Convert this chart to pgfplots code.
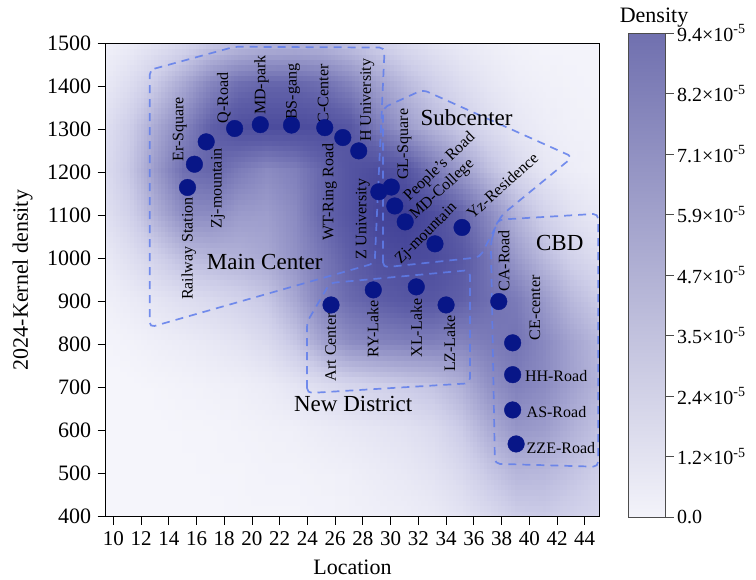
\documentclass[border=0pt]{standalone}
\usepackage{fontspec}
\setmainfont{Liberation Serif}
\usepackage{pgfplots}
\pgfplotsset{compat=1.18}
\usepgfplotslibrary{patchplots}

\definecolor{dot}{RGB}{8,22,135}
\definecolor{zone}{RGB}{95,125,235}
\newcommand\fa{\fontsize{21}{23}\selectfont}
\newcommand\fy{\fontsize{22}{24}\selectfont}
\newcommand\fb{\fontsize{22}{24}\selectfont}
\newcommand\fc{\fontsize{20}{22}\selectfont}
\newcommand\fl{\fontsize{16}{18}\selectfont}
\newcommand\fr{\fontsize{23}{25}\selectfont}

\pgfplotsset{
  colormap={kde}{rgb255=(247,247,252) rgb255=(205,205,232) rgb255=(150,150,200) rgb255=(95,95,168) rgb255=(55,55,145)},
  colormap={cb}{rgb255=(243,243,250) rgb255=(112,112,175)},
}
\tikzset{
  zonestyle/.style={draw=zone, dash pattern=on 8pt off 6pt, line width=1.7pt, draw opacity=0.85, rounded corners=5pt, mark=none},
  lab/.style={font=\fl, inner sep=0pt, text=black},
  reg/.style={font=\fr, inner sep=0pt, text=black},
}

\begin{document}
\begin{tikzpicture}
\begin{axis}[
  at={(0pt,0pt)}, anchor=south west,
  scale only axis, width=493.6pt, height=473.4pt,
  xmin=9.45, xmax=45.05, ymin=400, ymax=1500,
  xtick={10,12,...,44}, ytick={400,500,...,1500},
  xtick pos=bottom, ytick pos=left,
  tick align=outside, major tick length=8pt,
  tick style={black, line width=0.9pt},
  axis line style={black, line width=1.3pt},
  xticklabel style={font=\fa, yshift=-3pt},
  yticklabel style={font=\fy, xshift=-3pt},
  /pgf/number format/assume math mode=true,
  /pgf/number format/set thousands separator={},
  xlabel={Location}, ylabel={2024-Kernel density},
  every axis x label/.style={at={(axis description cs:0.5,0)}, yshift=-50.5pt, anchor=center, font=\fb},
  every axis y label/.style={at={(axis description cs:-0.1682,0.5)}, rotate=90, anchor=center, font=\fb},
  colormap name=kde, point meta min=0, point meta max=1,
  axis on top,
]
\addplot[surf, shader=interp, patch type=bilinear, mesh/cols=20, point meta=explicit] coordinates {
(9,400)[.01] (11,400)[.01] (13,400)[.01] (15,400)[.01] (17,400)[.01] (19,400)[.02] (21,400)[.02] (23,400)[.02] (25,400)[.03] (27,400)[.04] (29,400)[.05] (31,400)[.06] (33,400)[.08] (35,400)[.12] (37,400)[.18] (39,400)[.25] (41,400)[.26] (43,400)[.23] (45,400)[.19] (47,400)[.16]
(9,500)[.01] (11,500)[.01] (13,500)[.01] (15,500)[.01] (17,500)[.02] (19,500)[.02] (21,500)[.03] (23,500)[.03] (25,500)[.04] (27,500)[.05] (29,500)[.07] (31,500)[.09] (33,500)[.12] (35,500)[.18] (37,500)[.28] (39,500)[.36] (41,500)[.35] (43,500)[.30] (45,500)[.24] (47,500)[.20]
(9,600)[.01] (11,600)[.01] (13,600)[.01] (15,600)[.02] (17,600)[.02] (19,600)[.03] (21,600)[.04] (23,600)[.05] (25,600)[.07] (27,600)[.09] (29,600)[.11] (31,600)[.13] (33,600)[.17] (35,600)[.26] (37,600)[.40] (39,600)[.50] (41,600)[.47] (43,600)[.38] (45,600)[.30] (47,600)[.25]
(9,700)[.01] (11,700)[.01] (13,700)[.02] (15,700)[.03] (17,700)[.04] (19,700)[.05] (21,700)[.07] (23,700)[.11] (25,700)[.16] (27,700)[.20] (29,700)[.23] (31,700)[.26] (33,700)[.30] (35,700)[.38] (37,700)[.52] (39,700)[.60] (41,700)[.55] (43,700)[.45] (45,700)[.36] (47,700)[.30]
(9,800)[.02] (11,800)[.03] (13,800)[.05] (15,800)[.07] (17,800)[.09] (19,800)[.12] (21,800)[.17] (23,800)[.28] (25,800)[.44] (27,800)[.54] (29,800)[.58] (31,800)[.60] (33,800)[.60] (35,800)[.58] (37,800)[.62] (39,800)[.66] (41,800)[.56] (43,800)[.44] (45,800)[.34] (47,800)[.28]
(9,900)[.04] (11,900)[.07] (13,900)[.11] (15,900)[.15] (17,900)[.18] (19,900)[.22] (21,900)[.28] (23,900)[.42] (25,900)[.60] (27,900)[.70] (29,900)[.76] (31,900)[.80] (33,900)[.80] (35,900)[.75] (37,900)[.68] (39,900)[.62] (41,900)[.48] (43,900)[.34] (45,900)[.25] (47,900)[.20]
(9,1000)[.07] (11,1000)[.14] (13,1000)[.23] (15,1000)[.33] (17,1000)[.36] (19,1000)[.38] (21,1000)[.42] (23,1000)[.52] (25,1000)[.64] (27,1000)[.76] (29,1000)[.85] (31,1000)[.88] (33,1000)[.87] (35,1000)[.80] (37,1000)[.65] (39,1000)[.48] (41,1000)[.33] (43,1000)[.22] (45,1000)[.15] (47,1000)[.12]
(9,1100)[.12] (11,1100)[.22] (13,1100)[.39] (15,1100)[.55] (17,1100)[.55] (19,1100)[.48] (21,1100)[.47] (23,1100)[.55] (25,1100)[.72] (27,1100)[.82] (29,1100)[.92] (31,1100)[.95] (33,1100)[.86] (35,1100)[.74] (37,1100)[.55] (39,1100)[.36] (41,1100)[.22] (43,1100)[.13] (45,1100)[.08] (47,1100)[.06]
(9,1200)[.14] (11,1200)[.27] (13,1200)[.48] (15,1200)[.68] (17,1200)[.72] (19,1200)[.62] (21,1200)[.55] (23,1200)[.60] (25,1200)[.72] (27,1200)[.82] (29,1200)[.87] (31,1200)[.82] (33,1200)[.64] (35,1200)[.48] (37,1200)[.32] (39,1200)[.19] (41,1200)[.10] (43,1200)[.06] (45,1200)[.04] (47,1200)[.03]
(9,1300)[.12] (11,1300)[.24] (13,1300)[.41] (15,1300)[.58] (17,1300)[.75] (19,1300)[.85] (21,1300)[.87] (23,1300)[.87] (25,1300)[.85] (27,1300)[.80] (29,1300)[.62] (31,1300)[.48] (33,1300)[.36] (35,1300)[.26] (37,1300)[.17] (39,1300)[.10] (41,1300)[.06] (43,1300)[.04] (45,1300)[.03] (47,1300)[.03]
(9,1400)[.07] (11,1400)[.15] (13,1400)[.27] (15,1400)[.42] (17,1400)[.58] (19,1400)[.68] (21,1400)[.72] (23,1400)[.72] (25,1400)[.68] (27,1400)[.58] (29,1400)[.45] (31,1400)[.34] (33,1400)[.24] (35,1400)[.16] (37,1400)[.10] (39,1400)[.06] (41,1400)[.04] (43,1400)[.03] (45,1400)[.02] (47,1400)[.02]
(9,1500)[.03] (11,1500)[.06] (13,1500)[.11] (15,1500)[.17] (17,1500)[.25] (19,1500)[.30] (21,1500)[.33] (23,1500)[.34] (25,1500)[.33] (27,1500)[.28] (29,1500)[.22] (31,1500)[.16] (33,1500)[.11] (35,1500)[.07] (37,1500)[.05] (39,1500)[.03] (41,1500)[.02] (43,1500)[.02] (45,1500)[.02] (47,1500)[.02]
};
% zones
\addplot[zonestyle] coordinates {(12.62,1438) (18.75,1492) (29.57,1490) (28.85,989) (12.62,840)} -- cycle;
\addplot[zonestyle] coordinates {(29.45,979) (29.45,1350) (32.33,1392) (43.14,1236) (38.02,1101) (36.44,1003)} -- cycle;
\addplot[zonestyle] coordinates {(23.97,687) (23.97,852) (25.62,943) (35.72,973) (35.72,710)} -- cycle;
\addplot[zonestyle] coordinates {(37.23,1037) (37.71,1090) (44.97,1104) (44.97,516) (37.52,523)} -- cycle;
% points
\addplot[only marks, mark=*, mark size=8.3pt, color=dot, mark options={draw=dot, fill=dot}] coordinates {
(15.35,1165) (15.85,1219) (16.7,1271) (18.75,1302) (20.6,1311) (22.85,1310) (25.25,1304) (26.55,1281) (27.7,1250)
(29.15,1155) (30.05,1166) (30.3,1122) (31.05,1085) (33.2,1034) (35.15,1072)
(25.7,892) (28.75,927) (31.85,934) (34.0,892)
(37.8,900) (38.8,804) (38.8,730) (38.8,648) (39.05,569)
};
% point labels
\node[lab, rotate=90, anchor=east] at (axis cs:15.44,1143) {Railway Station};
\node[lab, rotate=90, anchor=west] at (axis cs:14.79,1225) {Er-Square};
\node[lab, rotate=90, anchor=east] at (axis cs:17.55,1256) {Zj-mountain};
\node[lab, rotate=90, anchor=west] at (axis cs:17.98,1314) {Q-Road};
\node[lab, rotate=90, anchor=west] at (axis cs:20.68,1333) {MD-park};
\node[lab, rotate=90, anchor=west] at (axis cs:22.96,1322) {BS-gang};
\node[lab, rotate=90, anchor=west] at (axis cs:25.13,1314) {C-Center};
\node[lab, rotate=90, anchor=east] at (axis cs:25.6,1268) {WT-Ring Road};
\node[lab, rotate=90, anchor=west] at (axis cs:28.31,1271) {H University};
\node[lab, rotate=90, anchor=east] at (axis cs:28.0,1186) {Z University};
\node[lab, rotate=90, anchor=west] at (axis cs:31.0,1182) {GL-Square};
\node[lab, rotate=44, anchor=center] at (axis cs:33.55,1212) {People's Road};
\node[lab, rotate=43, anchor=center] at (axis cs:33.73,1160) {MD-College};
\node[lab, rotate=45, anchor=center] at (axis cs:32.59,1057) {Zj-mountain};
\node[lab, rotate=42, anchor=center] at (axis cs:38.06,1169) {Yz-Residence};
\node[lab, rotate=90, anchor=east] at (axis cs:25.67,873) {Art Center};
\node[lab, rotate=90, anchor=east] at (axis cs:28.72,903) {RY-Lake};
\node[lab, rotate=90, anchor=east] at (axis cs:31.85,907) {XL-Lake};
\node[lab, rotate=90, anchor=east] at (axis cs:34.25,869) {LZ-Lake};
\node[lab, rotate=90, anchor=west] at (axis cs:38.17,923) {CA-Road};
\node[lab, rotate=90, anchor=west] at (axis cs:40.4,810) {CE-center};
\node[lab, anchor=west] at (axis cs:39.68,727) {HH-Road};
\node[lab, anchor=west] at (axis cs:39.8,644) {AS-Road};
\node[lab, anchor=west] at (axis cs:39.8,560) {ZZE-Road};
% region labels
\node[reg] at (axis cs:20.92,992) {Main Center};
\node[reg] at (axis cs:35.48,1328) {Subcenter};
\node[reg] at (axis cs:27.3,663) {New District};
\node[reg] at (axis cs:42.2,1035) {CBD};
\end{axis}

% colorbar
\begin{axis}[
  at={(514.3pt,-0.6pt)}, anchor=south west,
  hide axis, scale only axis, width=1pt, height=484.3pt,
  xmin=0, xmax=1, ymin=0, ymax=1,
  colormap name=cb, point meta min=0, point meta max=9.4,
  colorbar,
  colorbar/width=37pt,
  colorbar style={
    at={(parent axis.south west)}, anchor=south west, xshift=0pt,
    scale only axis, width=37pt, height=484.3pt,
    ytick={0,1.175,2.35,3.525,4.7,5.875,7.05,8.225,9.4},
    yticklabels={0.0,1.2×10\textsuperscript{-5},2.4×10\textsuperscript{-5},3.5×10\textsuperscript{-5},4.7×10\textsuperscript{-5},5.9×10\textsuperscript{-5},7.1×10\textsuperscript{-5},8.2×10\textsuperscript{-5},9.4×10\textsuperscript{-5}},
    yticklabel style={font=\fc},
    ytick pos=right, yticklabel pos=right,
    tick align=outside, major tick length=8pt,
    tick style={black!70, line width=0.9pt},
    axis line style={black!70, line width=1pt},
    title={Density}, title style={font=\fb, yshift=-4pt, xshift=7pt},
  },
]
\addplot[draw=none] coordinates {(0.5,0.5)};
\end{axis}
\path (-105.7pt,-63.3pt) rectangle (650.3pt,516.7pt);
\end{tikzpicture}
\end{document}
